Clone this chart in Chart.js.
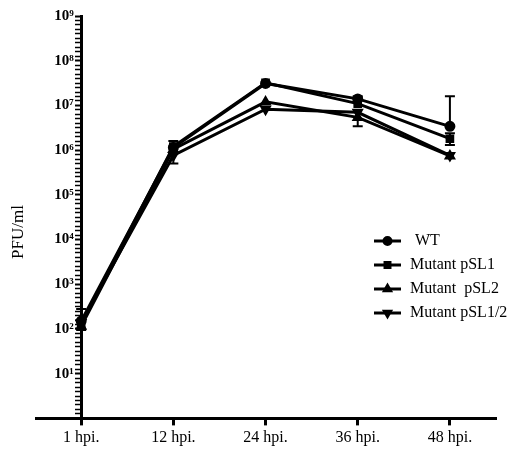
<!DOCTYPE html>
<html>
<head>
<meta charset="utf-8">
<script src="https://cdn.jsdelivr.net/npm/chart.js@4"></script>
<style>
  html, body { margin: 0; padding: 0; background: #fff; }
  #wrap { width: 509px; height: 451px; position: relative; }
</style>
</head>
<body>
<div id="wrap"><canvas id="chart1"></canvas></div>
<script>
var timeLabels = ["1 hpi.", "12 hpi.", "24 hpi.", "36 hpi.", "48 hpi."];

var wtValues = [150, 1.15e6, 3.1e7, 1.4e7, 3.4e6];
var pSL1Values = [130, 1.2e6, 3.2e7, 1.1e7, 1.8e6];
var pSL2Values = [115, 1.05e6, 1.2e7, 5.4e6, 7.4e5];
var pSL12Values = [140, 7.6e5, 8.2e6, 7.0e6, 7.6e5];

// error bar ends (null = none drawn)
var wtHigh = [280, 1.6e6, null, 1.6e7, 1.6e7];
var wtLow = [null, null, null, null, null];
var pSL1High = [null, null, null, null, 2.4e6];
var pSL1Low = [null, null, null, null, 1.3e6];
var pSL2High = [null, null, null, null, null];
var pSL2Low = [null, null, null, 3.4e6, null];
var pSL12High = [null, null, null, null, null];
var pSL12Low = [95, 5.0e5, null, null, null];

var supDigits = ["\u2070", "\u00b9", "\u00b2", "\u00b3", "\u2074", "\u2075", "\u2076", "\u2077", "\u2078", "\u2079"];

function pts(arr) {
  return arr.map(function (v, i) { return { x: i, y: v }; });
}

function series(label, values, style, rot, hi, lo) {
  return {
    label: label,
    data: pts(values),
    borderColor: "#000",
    backgroundColor: "#000",
    borderWidth: 3,
    pointStyle: style,
    pointRotation: rot,
    pointRadius: 4,
    pointBackgroundColor: "#000",
    pointBorderColor: "#000",
    tension: 0,
    errHigh: hi,
    errLow: lo
  };
}

var errorBars = {
  id: "errorBars",
  afterDatasetsDraw: function (chart) {
    var ctx = chart.ctx;
    var xs = chart.scales.x, ys = chart.scales.y;
    ctx.save();
    ctx.strokeStyle = "#000";
    ctx.lineWidth = 2;
    chart.data.datasets.forEach(function (ds) {
      ds.data.forEach(function (p, i) {
        var x = xs.getPixelForValue(p.x);
        var y = ys.getPixelForValue(p.y);
        [ds.errHigh[i], ds.errLow[i]].forEach(function (e) {
          if (e == null) return;
          var ye = ys.getPixelForValue(e);
          ctx.beginPath();
          ctx.moveTo(x, y);
          ctx.lineTo(x, ye);
          ctx.moveTo(x - 5, ye);
          ctx.lineTo(x + 5, ye);
          ctx.stroke();
        });
      });
    });
    ctx.restore();
  }
};

var sideLegend = {
  id: "sideLegend",
  afterDraw: function (chart) {
    var ctx = chart.ctx;
    ctx.save();
    ctx.font = "16px 'Liberation Serif'";
    ctx.textBaseline = "middle";
    ctx.fillStyle = "#000";
    ctx.strokeStyle = "#000";
    chart.data.datasets.forEach(function (ds, i) {
      var y = 241 + i * 24;
      ctx.lineWidth = 3;
      ctx.beginPath();
      ctx.moveTo(374, y);
      ctx.lineTo(401, y);
      ctx.stroke();
      Chart.helpers.drawPoint(ctx, { pointStyle: ds.pointStyle, rotation: ds.pointRotation, radius: 3.5, borderWidth: 1 }, 387.5, y);
      ctx.fillText(ds.label, i === 0 ? 415 : 410, y);
    });
    // y-axis title
    ctx.translate(19, 232);
    ctx.rotate(-Math.PI / 2);
    ctx.textAlign = "center";
    ctx.font = "17px 'Liberation Serif'";
    ctx.fillText("PFU/ml", 0, 0);
    ctx.restore();
  }
};

var ctx = document.getElementById("chart1");

new Chart(ctx, {
  type: "line",
  data: {
    datasets: [
      series("WT", wtValues, "circle", 0, wtHigh, wtLow),
      series("Mutant pSL1", pSL1Values, "rect", 0, pSL1High, pSL1Low),
      series("Mutant  pSL2", pSL2Values, "triangle", 0, pSL2High, pSL2Low),
      series("Mutant pSL1/2", pSL12Values, "triangle", 180, pSL12High, pSL12Low)
    ]
  },
  options: {
    responsive: true,
    maintainAspectRatio: false,
    animation: false,
    layout: { padding: { left: 36, right: 13, top: 16, bottom: 0 } },
    plugins: {
      legend: { display: false },
      tooltip: { enabled: false }
    },
    scales: {
      x: {
        type: "linear",
        min: -0.49,
        max: 4.5,
        afterBuildTicks: function (axis) {
          axis.ticks = timeLabels.map(function (t, i) { return { value: i }; });
        },
        ticks: {
          color: "#000",
          font: { family: "'Liberation Serif'", size: 16, lineHeight: 1.1 },
          padding: 4,
          maxRotation: 0,
          callback: function (v) { return timeLabels[v]; }
        },
        grid: { drawOnChartArea: false, drawTicks: true, tickLength: 7, tickWidth: 3, tickColor: "#000" },
        border: { color: "#000", width: 3 }
      },
      y: {
        type: "logarithmic",
        position: { x: 0 },
        min: 1,
        max: 1e9,
        afterBuildTicks: function (axis) {
          var t = [];
          for (var k = 0; k < 9; k++) {
            for (var j = 0; j < 10; j++) {
              t.push({ value: Math.pow(10, k + j / 10), major: j === 0 });
            }
          }
          t.push({ value: 1e9, major: true });
          axis.ticks = t;
        },
        ticks: {
          autoSkip: false,
          color: "#000",
          font: { family: "'Liberation Serif'", size: 15, weight: "bold" },
          callback: function (v, i) {
            if (i % 10 !== 0 || i === 0) return "";
            return "10" + supDigits[i / 10] + "\u2002";
          }
        },
        grid: {
          drawOnChartArea: false,
          drawTicks: true,
          tickLength: 5,
          tickColor: "#000",
          tickWidth: function (c) { return c.index % 10 === 0 ? 2 : 1.5; }
        },
        border: { color: "#000", width: 3 }
      }
    }
  },
  plugins: [errorBars, sideLegend]
});
</script>
</body>
</html>
